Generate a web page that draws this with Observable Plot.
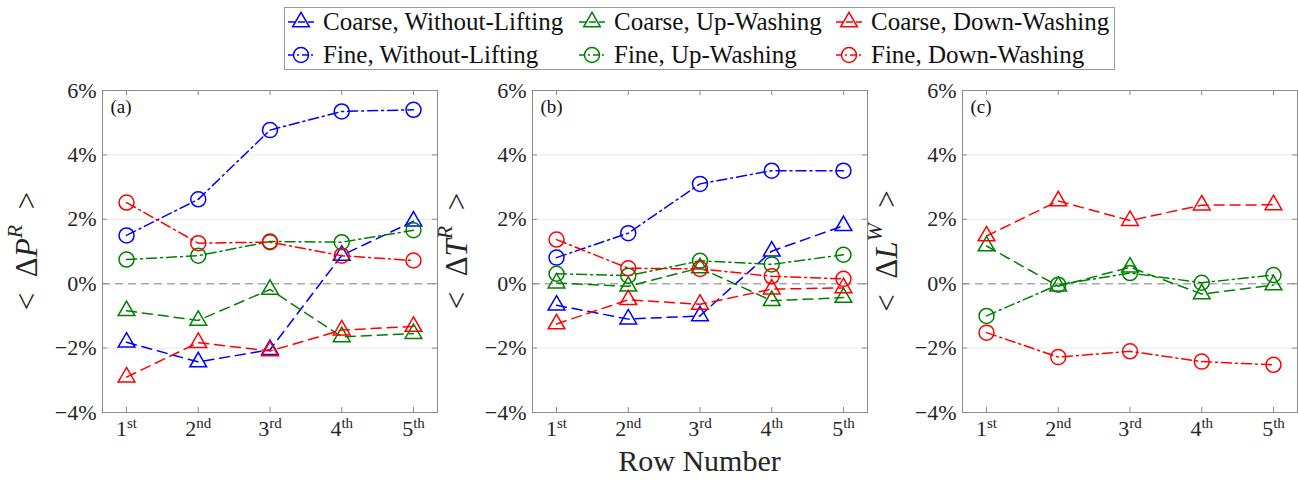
<!DOCTYPE html>
<html>
<head>
<meta charset="utf-8">
<script src="https://cdn.jsdelivr.net/npm/d3@7"></script>
<script src="https://cdn.jsdelivr.net/npm/@observablehq/plot@0.6"></script>
<style>
  html, body { margin: 0; padding: 0; background: #fff; }
  #page { position: relative; width: 1298px; height: 481px; overflow: hidden;
          font-family: "Liberation Serif", serif; color: #262626; }
  .panel { position: absolute; top: 75px; }
  #legend { position: absolute; left: 284px; top: 7px; width: 829px; height: 61px;
            border: 1px solid #9a9a9a; background: #fff; }
  .lg-text { position: absolute; font-size: 25px; line-height: 25px; white-space: nowrap; color: #111; }
  .lg-swatch { position: absolute; }
  #xlabel { position: absolute; left: 532px; width: 335px; top: 446px; text-align: center;
            font-size: 30px; line-height: 30px; color: #262626; }
</style>
</head>
<body>
<div id="page">
  <div id="legend"></div>
  <div id="xlabel">Row Number</div>
</div>
<script>
// Row positions and their ordinal suffixes
const rows = [1, 2, 3, 4, 5];
const rowSuffix = ["st", "nd", "rd", "th", "th"];
const yTicks = [-4, -2, 0, 2, 4, 6];
const gridTicks = [-2, 2, 4];

// Panel (a): < ΔP^R >
const pCoarseWithout = [-1.82, -2.43, -2.05, 0.88, 1.94];
const pCoarseUp      = [-0.84, -1.14, -0.18, -1.65, -1.55];
const pCoarseDown    = [-2.90, -1.83, -2.09, -1.44, -1.33];
const pFineWithout   = [1.50, 2.62, 4.77, 5.35, 5.40];
const pFineUp        = [0.75, 0.87, 1.31, 1.29, 1.66];
const pFineDown      = [2.52, 1.26, 1.29, 0.87, 0.72];

// Panel (b): < ΔT^R >
const tCoarseWithout = [-0.67, -1.10, -1.00, 1.01, 1.80];
const tCoarseUp      = [0.02, -0.08, 0.49, -0.53, -0.43];
const tCoarseDown    = [-1.25, -0.50, -0.64, -0.17, -0.13];
const tFineWithout   = [0.81, 1.57, 3.10, 3.51, 3.51];
const tFineUp        = [0.31, 0.25, 0.71, 0.60, 0.90];
const tFineDown      = [1.37, 0.48, 0.46, 0.23, 0.15];

// Panel (c): < ΔL^W >
const lCoarseUp      = [1.17, -0.08, 0.51, -0.32, -0.04];
const lCoarseDown    = [1.48, 2.57, 1.96, 2.44, 2.45];
const lFineUp        = [-1.00, -0.03, 0.33, 0.03, 0.27];
const lFineDown      = [-1.52, -2.28, -2.10, -2.42, -2.52];

const panelLabels = ["(a)", "(b)", "(c)"];
const yLabelVar = ["P", "T", "L"];
const yLabelSup = ["R", "R", "W"];

// Case names, colours and styles
const caseNames = [
  "Coarse, Without-Lifting", "Coarse, Up-Washing", "Coarse, Down-Washing",
  "Fine, Without-Lifting", "Fine, Up-Washing", "Fine, Down-Washing"
];
const caseColors = ["#0000ff", "#008000", "#ff0000", "#0000ff", "#008000", "#ff0000"];
const COARSE_DASH = "10,6";
const FINE_DASH = "10,4,2,4";

function style(i) {
  const coarse = i < 3;
  return {
    name: caseNames[i],
    color: caseColors[i],
    dash: coarse ? COARSE_DASH : FINE_DASH,
    symbol: coarse ? "triangle" : "circle",
    r: coarse ? 6.2 : 7.5
  };
}

const panels = [
  {values: [pCoarseWithout, pCoarseUp, pCoarseDown, pFineWithout, pFineUp, pFineDown], left: 0, width: 440, mr: 3},
  {values: [tCoarseWithout, tCoarseUp, tCoarseDown, tFineWithout, tFineUp, tFineDown], left: 430, width: 440, mr: 3},
  {values: [null, lCoarseUp, lCoarseDown, null, lFineUp, lFineDown], left: 860, width: 438, mr: 1}
];

const FONT = "Liberation Serif";
const AXIS = "#8c8c8c";
const ML = 102, MT = 15, H = 406, MB = 69;
const fmtPct = d => (d < 0 ? "\u2212" : "") + Math.abs(d) + "%";

panels.forEach((p, pi) => {
  const W = p.width;
  const fw = W - ML - p.mr;
  const fh = H - MT - MB;
  const marks = [
    Plot.ruleY(gridTicks, {stroke: "#e9e9e9", strokeWidth: 1}),
    Plot.ruleY([0], {stroke: "#a8a8a8", strokeWidth: 1.5, strokeDasharray: "8,5"}),
    Plot.frame({stroke: AXIS, strokeWidth: 1}),
    // inward tick marks on all four sides
    Plot.tickY(yTicks, {stroke: AXIS, insetRight: fw - 5}),
    Plot.tickY(yTicks, {stroke: AXIS, insetLeft: fw - 5}),
    Plot.tickX(rows, {stroke: AXIS, insetTop: fh - 5}),
    Plot.tickX(rows, {stroke: AXIS, insetBottom: fh - 5}),
    Plot.axisY({ticks: yTicks, tickSize: 0, tickPadding: 6, tickFormat: fmtPct, label: null,
                fontSize: 22, fill: "#262626"}),
    Plot.axisX({ticks: rows, tickSize: 0, tickPadding: 8, tickFormat: d => String(d), label: null,
                fontSize: 22, fill: "#262626"}),
    Plot.text([panelLabels[pi]], {frameAnchor: "top-left", dx: 8, dy: 9, fontSize: 19, fill: "#111"})
  ];
  p.values.forEach((vals, si) => {
    if (!vals) return;
    const s = style(si);
    const data = rows.map((r, j) => ({row: r, value: vals[j]}));
    marks.push(Plot.line(data, {x: "row", y: "value", stroke: s.color, strokeWidth: 1.5,
                                strokeDasharray: s.dash}));
    marks.push(Plot.dot(data, {x: "row", y: "value", stroke: s.color, strokeWidth: 1.5,
                               symbol: s.symbol, r: s.r, fill: "none"}));
  });

  const svg = Plot.plot({
    width: W, height: H,
    marginLeft: ML, marginRight: p.mr, marginTop: MT, marginBottom: MB,
    style: {fontFamily: FONT, fontSize: "21px", background: "transparent", color: "#262626"},
    x: {domain: [0.665, 5.335]},
    y: {domain: [-4, 6]},
    marks
  });

  // ordinal superscripts on the row tick labels
  d3.select(svg).selectAll('g[aria-label="x-axis tick label"] text').each(function () {
    const t = d3.select(this);
    const v = +t.text();
    t.text(v);
    t.append("tspan").attr("font-size", "15px").attr("dy", "-8").text(rowSuffix[v - 1]);
  });

  // rotated y-axis title with superscript
  const yl = d3.select(svg).append("text")
    .attr("transform", `translate(26,${MT + fh / 2}) rotate(-90)`)
    .attr("text-anchor", "middle")
    .attr("dominant-baseline", "central")
    .attr("font-size", 31)
    .attr("fill", "#262626");
  yl.append("tspan").text("<\u2002\u0394");
  yl.append("tspan").attr("font-style", "italic").text(yLabelVar[pi]);
  yl.append("tspan").attr("font-style", "italic").attr("font-size", 22).attr("dy", -12).text(yLabelSup[pi]);
  yl.append("tspan").attr("dy", 12).text("\u2002>");

  const holder = document.createElement("div");
  holder.className = "panel";
  holder.style.left = p.left + "px";
  holder.appendChild(svg);
  document.getElementById("page").appendChild(holder);
});

// Legend: three columns, coarse cases on the first row, fine cases on the second
const legend = document.getElementById("legend");
const colTextX = [323, 614, 871];
const rowBaseline = [29.5, 62.5];
caseNames.forEach((name, i) => {
  const s = style(i);
  const col = i % 3, row = Math.floor(i / 3);
  const tx = colTextX[col] - 285;
  const base = rowBaseline[row] - 8;
  const txt = document.createElement("div");
  txt.className = "lg-text";
  txt.style.left = tx + "px";
  txt.style.top = (base - 21) + "px";
  txt.textContent = name;
  legend.appendChild(txt);

  const sw = d3.create("svg").attr("class", "lg-swatch")
    .attr("width", 30).attr("height", 22)
    .style("left", (tx - 37) + "px").style("top", (base - 8 - 11) + "px");
  sw.append("line").attr("x1", 2).attr("x2", 28).attr("y1", 11).attr("y2", 11)
    .attr("stroke", s.color).attr("stroke-width", 1.5).attr("stroke-dasharray", s.dash === COARSE_DASH ? "7,3" : "6,3,2,3");
  const sym = s.symbol === "triangle" ? d3.symbolTriangle : d3.symbolCircle;
  sw.append("path").attr("d", d3.symbol(sym, Math.PI * s.r * s.r)())
    .attr("transform", "translate(15,11)")
    .attr("fill", "none").attr("stroke", s.color).attr("stroke-width", 1.5);
  legend.appendChild(sw.node());
});
</script>
</body>
</html>
